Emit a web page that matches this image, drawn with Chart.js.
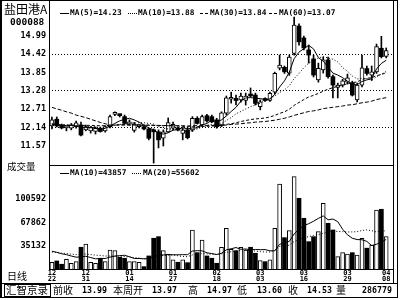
<!DOCTYPE html>
<html><head><meta charset="utf-8">
<script src="https://cdn.jsdelivr.net/npm/chart.js@4.4.0/dist/chart.umd.min.js"></script>
<style>
html,body{margin:0;padding:0;background:#fff;width:400px;height:300px;overflow:hidden;}
#wrap{position:relative;width:400px;height:300px;}
canvas{position:absolute;left:0;}
.ln{position:absolute;background:#000;}
.box{position:absolute;box-sizing:border-box;border:1px solid #000;}
.t{position:absolute;font-family:"DejaVu Sans Mono",monospace;font-weight:bold;color:#000;white-space:pre;line-height:1;font-size:7.8px;}
.c{position:absolute;font-family:"Noto Sans CJK SC",sans-serif;color:#000;white-space:pre;line-height:1;font-size:10px;}
.dot{position:absolute;height:0;border-top:1px dotted #000;}
.dash{position:absolute;height:0;border-top:1px dashed #000;}
</style></head>
<body><div id="wrap">
<canvas id="pc" width="400" height="166" style="top:0"></canvas>
<canvas id="vc" width="400" height="118" style="top:165px"></canvas>

<div class="box" style="left:0;top:0;width:398px;height:298px;border-left-width:2px"></div>
<div class="ln" style="left:393px;top:0;width:1px;height:283px"></div>
<div class="ln" style="left:49px;top:0;width:1px;height:270px"></div>
<div class="ln" style="left:49px;top:165px;width:344px;height:1px"></div>
<div class="ln" style="left:49px;top:269px;width:344px;height:1px"></div>
<div class="ln" style="left:0;top:283px;width:397px;height:1px"></div>
<div class="box" style="left:4px;top:284px;width:47px;height:13px"></div>

<div class="c" style="left:4px;top:3px;font-size:12px">盐田港A</div>
<div class="t" style="left:10px;top:17px;font-size:9.5px">000088</div>
<div class="c" style="left:7px;top:162px;font-size:9.5px">成交量</div>
<div class="c" style="left:7px;top:271px">日线</div>

<div class="ln" style="left:60px;top:13px;width:9px;height:1px"></div>
<div class="t" style="left:70px;top:9px">MA(5)=14.23</div>
<div class="dot" style="left:128px;top:13px;width:9px"></div>
<div class="t" style="left:138px;top:9px">MA(10)=13.88</div>
<div class="dash" style="left:200px;top:13px;width:8px"></div>
<div class="t" style="left:210px;top:9px">MA(30)=13.84</div>
<div class="dash" style="left:269px;top:13px;width:8px"></div>
<div class="t" style="left:279px;top:9px">MA(60)=13.07</div>

<div class="ln" style="left:60px;top:173px;width:9px;height:1px"></div>
<div class="t" style="left:70px;top:169px">MA(10)=43857</div>
<div class="dot" style="left:132px;top:173px;width:9px"></div>
<div class="t" style="left:143px;top:169px">MA(20)=55602</div>

<div class="c" style="left:6px;top:285px;font-size:10.5px">汇智京录</div>
<div class="c" style="left:53px;top:285px">前收</div>
<div class="t" style="left:82px;top:286px;font-size:8.3px">13.99</div>
<div class="c" style="left:113px;top:285px">本周开</div>
<div class="t" style="left:152px;top:286px;font-size:8.3px">13.97</div>
<div class="c" style="left:188px;top:285px">高</div>
<div class="t" style="left:207px;top:286px;font-size:8.3px">14.97</div>
<div class="c" style="left:237px;top:285px">低</div>
<div class="t" style="left:257px;top:286px;font-size:8.3px">13.60</div>
<div class="c" style="left:288px;top:285px">收</div>
<div class="t" style="left:307px;top:286px;font-size:8.3px">14.53</div>
<div class="c" style="left:336px;top:285px">量</div>
<div class="t" style="left:362px;top:286px;font-size:8.3px">286779</div>
</div>
<script>
// ---- data ----
const openP  = [12.19,12.40,12.21,12.13,12.12,12.17,12.22,12.07,12.04,12.02,12.12,12.04,12.17,12.55,12.52,12.48,12.25,12.05,12.17,12.17,12.10,12.07,12.01,11.81,12.01,12.12,12.12,11.96,12.07,12.07,12.43,12.22,12.51,12.48,12.38,12.22,12.59,13.02,13.05,13.00,12.98,13.18,13.15,12.79,13.02,12.98,13.24,13.98,14.01,13.83,14.44,15.29,14.92,14.55,14.27,13.62,13.93,14.24,13.72,13.39,13.46,13.55,13.53,13.00,13.46,13.97,13.77,13.87,14.60,14.35];
const highP  = [12.47,12.47,12.25,12.19,12.27,12.34,12.31,12.22,12.17,12.16,12.16,12.20,12.53,12.63,12.56,12.53,12.38,12.30,12.22,12.20,12.12,12.10,12.07,12.07,12.44,12.31,12.16,12.13,12.13,12.48,12.48,12.53,12.55,12.53,12.43,12.63,13.12,13.24,13.15,13.21,13.21,13.37,13.21,13.00,13.06,13.24,13.86,14.39,14.05,14.39,15.57,15.36,14.98,14.70,14.39,14.14,14.33,14.33,13.77,13.52,13.64,13.80,13.58,13.52,14.39,14.05,14.05,14.73,14.97,14.61];
const lowP   = [12.10,12.16,12.10,12.04,12.07,12.12,11.88,12.04,11.97,11.94,12.00,12.00,12.13,12.51,12.47,12.25,12.22,12.00,12.13,12.07,11.76,11.04,11.51,11.57,11.99,12.07,12.04,11.76,11.79,12.02,12.25,12.17,12.31,12.29,12.12,12.17,12.53,12.90,12.84,12.93,12.84,13.09,12.84,12.69,12.95,12.95,13.18,13.93,13.82,13.76,14.39,14.70,14.55,14.14,13.71,13.55,13.83,13.67,13.06,13.06,13.40,13.49,13.12,12.94,13.40,13.77,13.60,13.82,14.30,14.30];
const closeP = [12.38,12.19,12.13,12.14,12.22,12.29,11.91,12.17,12.14,12.12,12.02,12.17,12.48,12.56,12.51,12.27,12.32,12.25,12.18,12.10,11.81,12.01,11.76,12.01,12.30,12.24,12.07,12.07,11.83,12.43,12.27,12.48,12.35,12.32,12.17,12.60,13.06,13.03,12.98,13.12,13.12,13.12,12.89,12.94,12.98,13.20,13.82,14.08,13.87,14.33,15.32,14.80,14.61,14.39,13.77,13.98,14.24,13.72,13.46,13.46,13.59,13.68,13.15,13.46,13.99,13.82,13.87,14.65,14.34,14.53];
const ma5  = [12.26,12.24,12.22,12.20,12.21,12.19,12.14,12.14,12.15,12.13,12.07,12.12,12.19,12.27,12.35,12.40,12.43,12.38,12.31,12.22,12.13,12.07,11.97,11.94,11.98,12.06,12.08,12.14,12.10,12.13,12.13,12.22,12.27,12.37,12.32,12.38,12.50,12.64,12.77,12.96,13.06,13.07,13.05,13.04,13.01,13.03,13.17,13.40,13.59,13.86,14.28,14.48,14.59,14.69,14.58,14.31,14.20,14.02,13.83,13.77,13.69,13.58,13.47,13.47,13.57,13.62,13.66,13.96,14.13,14.23];
const ma10 = [12.25,12.24,12.23,12.22,12.21,12.20,12.19,12.18,12.17,12.17,12.13,12.13,12.17,12.21,12.24,12.24,12.28,12.28,12.29,12.29,12.27,12.25,12.18,12.12,12.10,12.10,12.07,12.06,12.02,12.05,12.10,12.15,12.21,12.24,12.22,12.26,12.36,12.45,12.57,12.64,12.72,12.79,12.84,12.90,12.98,13.04,13.12,13.23,13.31,13.44,13.66,13.82,14.00,14.14,14.22,14.30,14.34,14.30,14.26,14.18,14.00,13.89,13.74,13.65,13.67,13.66,13.62,13.71,13.80,13.88];
const ma30 = [12.23,12.23,12.22,12.22,12.22,12.22,12.21,12.21,12.21,12.20,12.20,12.20,12.21,12.22,12.23,12.23,12.23,12.23,12.22,12.22,12.21,12.21,12.20,12.20,12.20,12.19,12.19,12.18,12.17,12.17,12.17,12.18,12.18,12.19,12.19,12.20,12.24,12.26,12.29,12.33,12.36,12.39,12.41,12.42,12.44,12.47,12.52,12.58,12.63,12.71,12.83,12.92,13.01,13.09,13.14,13.20,13.27,13.33,13.38,13.42,13.46,13.50,13.53,13.56,13.63,13.67,13.69,13.75,13.79,13.84];
const ma60 = [12.77,12.72,12.68,12.63,12.59,12.53,12.49,12.45,12.40,12.35,12.30,12.26,12.22,12.22,12.22,12.22,12.22,12.22,12.22,12.21,12.22,12.21,12.21,12.20,12.21,12.20,12.20,12.20,12.19,12.20,12.20,12.20,12.21,12.21,12.20,12.21,12.22,12.24,12.25,12.26,12.28,12.29,12.31,12.32,12.33,12.35,12.37,12.40,12.43,12.47,12.52,12.56,12.60,12.64,12.66,12.69,12.73,12.75,12.77,12.79,12.81,12.84,12.85,12.88,12.91,12.93,12.96,13.01,13.04,13.07];
const vol  = [11864,13686,9060,16069,10462,12705,32889,37515,11864,10462,17470,12705,29104,28124,18872,17470,12705,12705,11864,5696,20694,45504,47746,28124,23497,15087,11864,15087,11303,57138,25320,43122,20694,17470,10462,32889,59521,30086,28124,32889,29104,32889,24479,14106,12705,15087,59521,121617,46346,56157,131849,101572,73538,40738,47746,54756,94564,66530,57138,19713,25320,23497,25320,22096,45504,31595,36113,85172,86153,47746];
const vma10 = [27300,25800,23800,22500,20600,19000,19400,20200,18500,16658,17218,17120,19125,20330,21171,21648,19629,17148,17148,16672,16994,20274,22138,22138,22601,22362,22278,22516,22460,27604,28067,27829,25124,24058,22755,24535,29301,30801,32483,30058,30436,29413,29791,29455,29679,27899,27899,37052,38874,41201,51476,58344,63250,65913,69417,73384,76888,71380,72459,68814,58162,50354,45532,43668,43444,41128,35283,37147,40049,43857];
const vma20 = [26243,25578,24681,24134,23307,22592,22887,23413,22656,21829,21352,20638,20743,20799,20393,19916,19201,18487,17730,16665,17106,18697,20631,21234,21886,22005,20954,19832,19804,22138,22530,24051,23631,23098,22678,23449,25789,26658,27471,28831,29252,28621,27457,26757,26217,26217,28600,33926,35678,35629,40956,43878,46521,47684,49548,50642,52394,54216,55667,55008,54819,54349,54391,54791,56430,57256,56085,54263,56253,55602];
const priceTicks = [11.57,12.14,12.71,13.28,13.85,14.42,14.99];
const priceGridTicks = [12.14,13.28,14.42];
const volTicks = [35132,67862,100592];
const dateTickIdx = [0,7,16,25,34,43,52,61,69];
const dateTickLabels = [['12','22'],['12','31'],['01','14'],['01','27'],['02','18'],['03','03'],['03','16'],['03','29'],['04','08']];

// ---- build ----
const N = closeP.length;
const idx = Array.from({length:N},(_,i)=>i);
const up = idx.map(i => closeP[i] >= openP[i]);
const pts = arr => idx.map(i => ({x:i, y:arr[i]}));
const mono = (size) => ({family:'DejaVu Sans Mono', size:size, weight:'bold'});
const lineDs = (arr, dash) => ({type:'line', data:pts(arr), borderColor:'#000', borderWidth:1, borderDash:dash, pointRadius:0, tension:0, fill:false, order:0});
const xScale = {type:'linear', min:-0.6, max:70.4, offset:false, display:false};
const noPad = s => { s.paddingTop = 0; s.paddingBottom = 0; s.paddingLeft = 0; s.paddingRight = 0; };

new Chart(document.getElementById('pc'), {
  type:'bar',
  data:{datasets:[
    lineDs(ma5, []),
    lineDs(ma10, [1,2]),
    lineDs(ma30, [3,2]),
    lineDs(ma60, [4,2]),
    {type:'bar', data: idx.map(i=>({x:i, y:[lowP[i], highP[i]]})), backgroundColor:'#000', borderWidth:0, barThickness:1, grouped:false, order:2},
    {type:'bar', data: idx.map(i=>({x:i, y:[openP[i], closeP[i]]})),
      backgroundColor: idx.map(i=>up[i]?'#fff':'#000'), borderColor:'#000',
      borderWidth: idx.map(i=>up[i]?1:0), borderSkipped:false, barThickness:4, grouped:false, minBarLength:2, order:1}
  ]},
  options:{
    responsive:false, animation:false, events:[],
    layout:{padding:{top:3, right:7, bottom:1, left:0}},
    plugins:{legend:{display:false}, tooltip:{enabled:false}},
    scales:{
      x: xScale,
      y:{min:10.981, max:16.004,
        afterBuildTicks: s => { s.ticks = priceTicks.map(v=>({value:v})); },
        afterFit: s => { s.width = 49; noPad(s); },
        ticks:{padding:3, color:'#000', font:mono(8.5), callback: v => Number(v).toFixed(2)},
        grid:{drawTicks:false, lineWidth:1, color: c => (c.tick && priceGridTicks.includes(c.tick.value)) ? '#000' : 'rgba(0,0,0,0)'},
        border:{display:false, dash:[1,2]}
      }
    }
  }
});

new Chart(document.getElementById('vc'), {
  type:'bar',
  data:{datasets:[
    lineDs(vma10, []),
    lineDs(vma20, [1,2]),
    {type:'bar', data: pts(vol), backgroundColor: idx.map(i=>up[i]?'#fff':'#000'), borderColor:'#000',
      borderWidth: idx.map(i=>up[i]?1:0), borderSkipped:false, barThickness:4, grouped:false, order:1}
  ]},
  options:{
    responsive:false, animation:false, events:[],
    layout:{padding:{top:0, right:7, bottom:0, left:0}},
    plugins:{legend:{display:false}, tooltip:{enabled:false}},
    scales:{
      x:{type:'linear', min:-0.6, max:70.4, offset:false,
        afterBuildTicks: s => { s.ticks = dateTickIdx.map(v=>({value:v})); },
        afterFit: s => { s.height = 14; noPad(s); },
        ticks:{autoSkip:false, maxRotation:0, minRotation:0, padding:1.5, color:'#000', font:{family:'DejaVu Sans Mono', size:7, weight:'bold', lineHeight:0.78},
          callback: v => { const k = dateTickIdx.indexOf(v); return k >= 0 ? dateTickLabels[k] : ''; }},
        grid:{display:false, drawTicks:false}, border:{display:false}
      },
      y:{min:2402, max:148252,
        afterBuildTicks: s => { s.ticks = volTicks.map(v=>({value:v})); },
        afterFit: s => { s.width = 49; noPad(s); },
        ticks:{padding:3, color:'#000', font:mono(8.5), callback: v => String(v)},
        grid:{display:false, drawTicks:false}, border:{display:false}
      }
    }
  }
});
</script>
</body></html>
